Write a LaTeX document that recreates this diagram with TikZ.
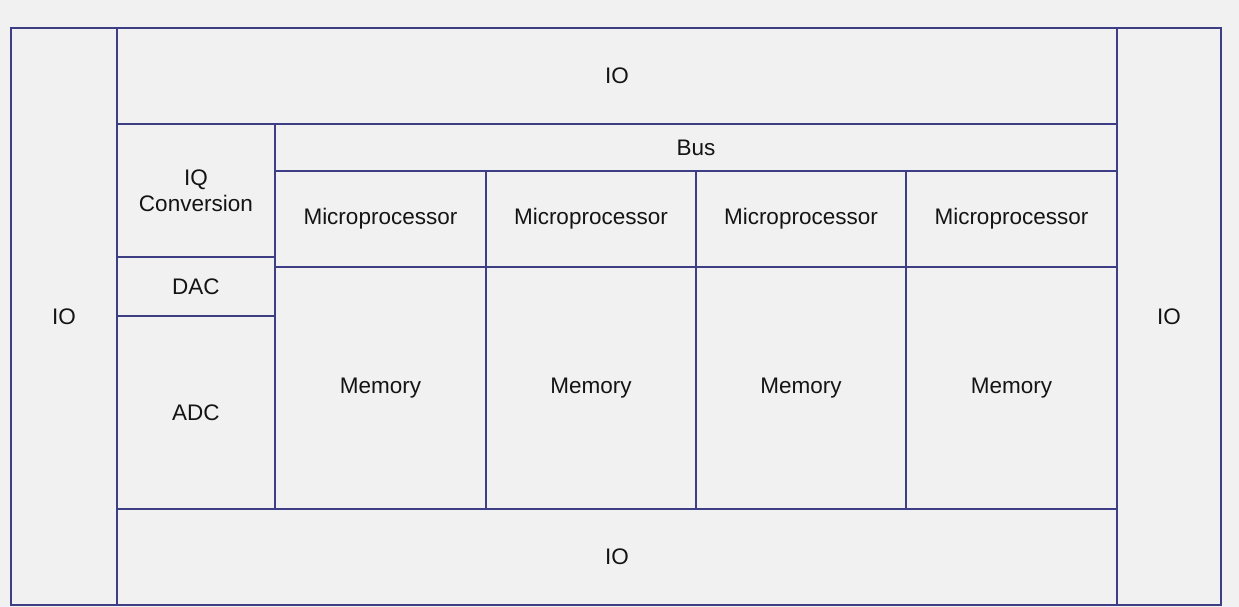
\documentclass[tikz,border=0pt]{standalone}
\usepackage{fontspec}
\setmainfont{Liberation Sans}
\definecolor{linec}{HTML}{3E3E84}
\definecolor{bgc}{HTML}{F1F1F2}
\definecolor{txtc}{HTML}{141414}
\begin{document}
\begin{tikzpicture}[x=1pt,y=-1pt,
  cell/.style={draw=linec, line width=1.8pt, rectangle, inner sep=0pt, anchor=north west,
    text=txtc, font=\fontsize{22.5}{26}\selectfont, align=center}]
\fill[bgc] (0,0) rectangle (1239,607);
\useasboundingbox (0,0) rectangle (1239,607);
\node[cell, minimum width=106pt, minimum height=577pt] (ioL) at (10,27) {IO};
\node[cell, minimum width=104pt, minimum height=577pt] (ioR) at (1116,27) {IO};
\node[cell, minimum width=1000pt, minimum height=96pt] (ioT) at (116,27) {IO};
\node[cell, minimum width=1000pt, minimum height=96pt] (ioB) at (116,508) {IO};
\node[cell, minimum width=158pt, minimum height=133pt] (iq) at (116,123) {IQ\\Conversion};
\node[cell, minimum width=158pt, minimum height=59pt] (dac) at (116,256) {DAC};
\node[cell, minimum width=158pt, minimum height=193pt] (adc) at (116,315) {ADC};
\node[cell, minimum width=842pt, minimum height=47pt] (bus) at (274,123) {Bus};
\node[cell, minimum width=211pt, minimum height=96pt] (mp1) at (274,170) {Microprocessor};
\node[cell, minimum width=210pt, minimum height=96pt] (mp2) at (485,170) {Microprocessor};
\node[cell, minimum width=210pt, minimum height=96pt] (mp3) at (695,170) {Microprocessor};
\node[cell, minimum width=211pt, minimum height=96pt] (mp4) at (905,170) {Microprocessor};
\node[cell, minimum width=211pt, minimum height=242pt] (mem1) at (274,266) {Memory};
\node[cell, minimum width=210pt, minimum height=242pt] (mem2) at (485,266) {Memory};
\node[cell, minimum width=210pt, minimum height=242pt] (mem3) at (695,266) {Memory};
\node[cell, minimum width=211pt, minimum height=242pt] (mem4) at (905,266) {Memory};
\end{tikzpicture}
\end{document}
